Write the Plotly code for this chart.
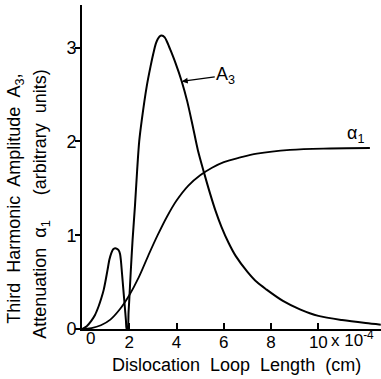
import plotly.graph_objects as go

# A3 curve (third harmonic amplitude)
a3_x = [0.0, 0.2, 0.4, 0.55, 0.7, 0.82, 0.92, 1.0, 1.08, 1.16, 1.24, 1.32, 1.40, 1.48, 1.55,
        1.61, 1.65, 1.69, 1.75, 1.81, 1.86, 1.89,
        1.93, 1.97, 2.0, 2.06, 2.14, 2.24, 2.33, 2.42, 2.53, 2.74, 2.9, 3.02, 3.12, 3.2, 3.28,
        3.37, 3.5, 3.62, 3.75, 3.95, 4.22, 4.45, 4.68, 4.9, 5.16, 5.4, 5.65, 5.9, 6.2,
        6.5, 7.0, 7.4, 7.81, 8.5, 9.22, 10.0, 11.0, 12.0, 12.64]
a3_y = [0.0, 0.03, 0.09, 0.15, 0.24, 0.33, 0.42, 0.52, 0.63, 0.74, 0.81, 0.85, 0.86, 0.855, 0.84,
        0.80, 0.72, 0.60, 0.42, 0.24, 0.09, 0.0,
        0.0, 0.18, 0.31, 0.60, 0.95, 1.31, 1.68, 2.0, 2.23, 2.59, 2.80, 2.94, 3.04, 3.09, 3.12,
        3.13, 3.11, 3.05, 2.97, 2.84, 2.64, 2.43, 2.17, 1.91, 1.67, 1.46, 1.26, 1.09, 0.92,
        0.78, 0.61, 0.50, 0.42, 0.30, 0.21, 0.14, 0.095, 0.063, 0.046]

# alpha1 curve (attenuation)
al_x = [0.0, 0.4, 0.8, 1.2, 1.6, 2.0, 2.4, 2.8, 3.2, 3.6, 4.0, 4.5, 5.0, 5.5, 6.0, 6.7, 7.4,
        8.8, 10.5, 12.18]
al_y = [0.0, 0.01, 0.04, 0.10, 0.21, 0.36, 0.55, 0.78, 1.0, 1.20, 1.37, 1.53, 1.64, 1.72, 1.78,
        1.83, 1.87, 1.91, 1.925, 1.93]

x_ticks = [2, 4, 6, 8, 10]
x_ticktext = ["2", "4", "6", "8", "10"]
y_ticks = [0, 1, 2, 3]
y_ticktext = ["0", "1", "2", "3"]

FONT = "Liberation Sans"

fig = go.Figure()
fig.add_trace(go.Scatter(x=a3_x, y=a3_y, mode="lines",
                         line=dict(color="black", width=2, shape="spline", smoothing=0.8),
                         showlegend=False, hoverinfo="skip"))
fig.add_trace(go.Scatter(x=al_x, y=al_y, mode="lines",
                         line=dict(color="black", width=1.8, shape="spline", smoothing=1.0),
                         showlegend=False, hoverinfo="skip"))

fig.update_layout(
    width=381, height=379,
    margin=dict(l=82, r=0, t=5, b=50),
    paper_bgcolor="white", plot_bgcolor="white",
    font=dict(family=FONT, size=17, color="black"),
    xaxis=dict(range=[0, 12.65], showgrid=False, zeroline=False, showline=True,
               linecolor="black", linewidth=2, ticks="inside", ticklen=6, tickwidth=1.5,
               tickcolor="black", tickvals=x_ticks, ticktext=x_ticktext,
               ticklabelstandoff=-3,
               tickfont=dict(family=FONT, size=17)),
    yaxis=dict(range=[0, 3.455], showgrid=False, zeroline=False, showline=True,
               linecolor="black", linewidth=2, ticks="outside", ticklen=5, tickwidth=1.5,
               tickcolor="black", tickvals=y_ticks, ticktext=y_ticktext,
               ticklabelstandoff=-5,
               tickfont=dict(family=FONT, size=18)),
)

annotations = [
    dict(x=0.34, y=-0.03, xref="x", yref="paper", text="0", showarrow=False,
         xanchor="center", yanchor="middle", font=dict(size=17)),
    dict(x=10.45, y=-0.03, xref="x", yref="paper", text="x 10<sup>-4</sup>", showarrow=False,
         xanchor="left", yanchor="middle", font=dict(size=17)),
    dict(x=0.517, y=-0.11, xref="paper", yref="paper", text="Dislocation  Loop  Length  (cm)",
         showarrow=False, xanchor="center", yanchor="middle", font=dict(size=18)),
    dict(x=(16 - 82) / 299, y=(329.3 - 199) / 324, xref="paper", yref="paper",
         text="Third  Harmonic  Amplitude  A<sub>3</sub>,", textangle=-90,
         showarrow=False, xanchor="center", yanchor="middle", font=dict(size=18)),
    dict(x=(42 - 82) / 299, y=(329.3 - 204) / 324, xref="paper", yref="paper",
         text="Attenuation  α<sub>1</sub>     (arbitrary  units)", textangle=-90,
         showarrow=False, xanchor="center", yanchor="middle", font=dict(size=18)),
    dict(x=11.55, y=2.07, xref="x", yref="y", text="α<sub>1</sub>", showarrow=False,
         xanchor="center", yanchor="middle", font=dict(size=18)),
    dict(x=4.22, y=2.64, xref="x", yref="y", text="A<sub>3</sub>", showarrow=True,
         ax=44, ay=-6, arrowhead=2, arrowsize=1, arrowwidth=1.2, arrowcolor="black",
         font=dict(size=18)),
]
fig.update_layout(annotations=annotations)

fig.write_html("out.html", config={"displayModeBar": False},
               post_script="document.body.style.margin='0px';")
